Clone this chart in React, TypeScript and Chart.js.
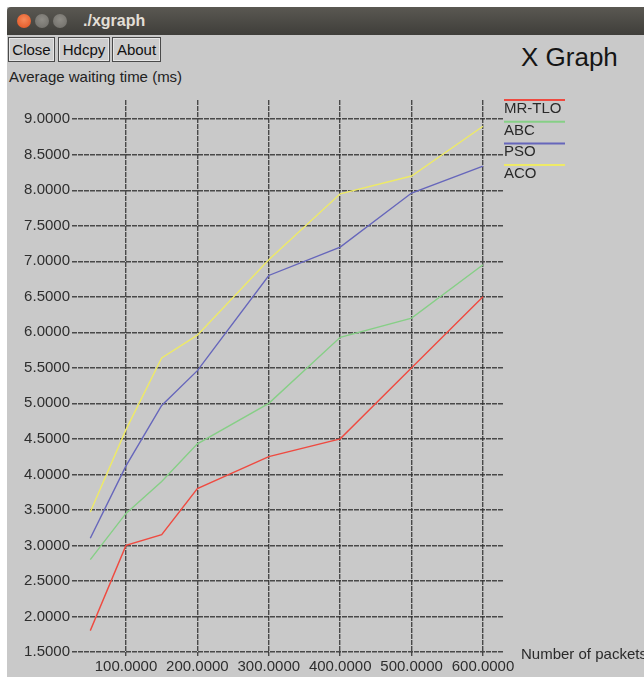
import React, { useEffect, useRef } from "react";
import { Chart, registerables } from "chart.js";
Chart.register(...registerables);

const packets = [50, 100, 150, 200, 300, 400, 500, 600];
const mrTlo = [1.8, 3.0, 3.15, 3.8, 4.25, 4.5, 5.5, 6.5];
const abc = [2.8, 3.45, 3.9, 4.43, 5.0, 5.93, 6.2, 6.95];
const pso = [3.1, 4.12, 4.97, 5.46, 6.8, 7.2, 7.96, 8.34];
const aco = [3.47, 4.63, 5.64, 5.96, 7.02, 7.95, 8.2, 8.9];
const seriesNames = ["MR-TLO", "ABC", "PSO", "ACO"];
const seriesColors = ["#ef4a40", "#86cf86", "#6666bb", "#eeea66"];
const xTicks = [100, 200, 300, 400, 500, 600];
const yTicks = [1.5, 2.0, 2.5, 3.0, 3.5, 4.0, 4.5, 5.0, 5.5, 6.0, 6.5, 7.0, 7.5, 8.0, 8.5, 9.0];
const xTitle = "Number of packets";
const yTitle = "Average waiting time (ms)";

const FONT = '"Liberation Sans", Arial, Helvetica, sans-serif';

export default function App() {
  const ref = useRef<HTMLCanvasElement | null>(null);
  useEffect(() => {
    document.body.style.margin = "0";
    const canvas = ref.current!;
    const values = [mrTlo, abc, pso, aco];
    const legendPlugin = {
      id: "xgLegend",
      afterDraw(chart: any) {
        const ctx = chart.ctx;
        const area = chart.chartArea;
        ctx.save();
        chart.data.datasets.forEach((ds: any, i: number) => {
          const y = area.top + i * 21.7;
          ctx.strokeStyle = ds.borderColor;
          ctx.lineWidth = 2;
          ctx.beginPath();
          ctx.moveTo(area.right + 1, y);
          ctx.lineTo(area.right + 62, y);
          ctx.stroke();
          ctx.fillStyle = "#2a2a2a";
          ctx.font = `15px ${FONT}`;
          ctx.textBaseline = "alphabetic";
          ctx.textAlign = "left";
          ctx.fillText(ds.label, area.right + 1, y + 13);
        });
        ctx.fillStyle = "#2a2a2a";
        ctx.font = `15px ${FONT}`;
        ctx.textBaseline = "middle";
        ctx.fillText(xTitle, area.right + 18, area.bottom - 1);
        ctx.restore();
      },
    };
    const gridOpts = { color: "rgba(45,45,45,0.82)", lineWidth: 1.4, drawTicks: false };
    const chart = new Chart(canvas, {
      type: "line",
      data: {
        datasets: seriesNames.map((name, i) => ({
          label: name,
          data: packets.map((x, j) => ({ x, y: values[i][j] })),
          borderColor: seriesColors[i],
          backgroundColor: seriesColors[i],
          borderWidth: 1.4,
          pointRadius: 0,
          tension: 0,
          fill: false,
        })),
      },
      options: {
        responsive: false,
        animation: false,
        devicePixelRatio: 1,
        layout: { padding: { top: 38, right: 141, left: 0, bottom: 0 } },
        plugins: { legend: { display: false }, tooltip: { enabled: false }, title: { display: false } },
        scales: {
          x: {
            type: "linear",
            min: 24.4,
            max: 628,
            afterFit: (s: any) => {
              s.height = 21;
            },
            afterBuildTicks: (s: any) => {
              s.ticks = xTicks.map((v) => ({ value: v }));
            },
            ticks: {
              callback: (v: any) => Number(v).toFixed(4),
              font: { size: 15, family: FONT },
              color: "#2e2e2e",
              padding: 2,
              maxRotation: 0,
              autoSkip: false,
            },
            grid: gridOpts,
            border: { display: false, dash: [5, 1] },
          },
          y: {
            type: "linear",
            min: 1.443,
            max: 9.27,
            afterFit: (s: any) => {
              s.width = 64;
            },
            afterBuildTicks: (s: any) => {
              s.ticks = yTicks.map((v) => ({ value: v }));
            },
            ticks: {
              callback: (v: any) => Number(v).toFixed(4),
              font: { size: 15, family: FONT },
              color: "#2e2e2e",
              padding: 2,
              autoSkip: false,
            },
            grid: gridOpts,
            border: { display: false, dash: [5, 1] },
          },
        },
      },
      plugins: [legendPlugin],
    } as any);
    return () => chart.destroy();
  }, []);

  const btn: React.CSSProperties = {
    position: "absolute",
    top: 37,
    height: 25,
    boxSizing: "border-box",
    border: "1px solid #4a4a4a",
    boxShadow: "inset 0 0 0 1px #e6e6e6",
    background: "#cdcdcd",
    font: `15px ${FONT}`,
    color: "#111",
    display: "flex",
    alignItems: "center",
    justifyContent: "center",
  };
  const circle = (x: number, bg: string): React.CSSProperties => ({
    position: "absolute",
    left: x - 7,
    top: 14,
    width: 14,
    height: 14,
    borderRadius: "50%",
    background: bg,
  });

  return (
    <div style={{ position: "fixed", left: 0, top: 0, width: 644, height: 677, background: "#ffffff", overflow: "hidden" }}>
      <div style={{ position: "absolute", left: 7, top: 7, width: 637, height: 670, background: "#c9c9c9" }} />
      <div
        style={{
          position: "absolute",
          left: 7,
          top: 7,
          width: 637,
          height: 28,
          background: "linear-gradient(#5a5852, #3f3e3a)",
          borderRadius: "4px 0 0 0",
        }}
      />
      <div style={circle(24, "radial-gradient(circle at 50% 40%, #f58a5a, #e0501e)")} />
      <div style={circle(42, "radial-gradient(circle at 50% 40%, #8e8c86, #6e6c67)")} />
      <div style={circle(60, "radial-gradient(circle at 50% 40%, #8e8c86, #6e6c67)")} />
      <div
        style={{
          position: "absolute",
          left: 83,
          top: 12,
          font: `bold 16px ${FONT}`,
          color: "#e2ded6",
          lineHeight: "18px",
        }}
      >
        ./xgraph
      </div>
      <div style={{ ...btn, left: 8, width: 47 }}>Close</div>
      <div style={{ ...btn, left: 58, width: 52 }}>Hdcpy</div>
      <div style={{ ...btn, left: 112, width: 49 }}>About</div>
      <div style={{ position: "absolute", left: 521, top: 41, font: `26px ${FONT}`, color: "#151515", lineHeight: "32px" }}>
        X Graph
      </div>
      <div style={{ position: "absolute", left: 9, top: 68, font: `15px ${FONT}`, color: "#222", lineHeight: "18px" }}>
        {yTitle}
      </div>
      <canvas ref={ref} width={636} height={615} style={{ position: "absolute", left: 8, top: 62, width: 636, height: 615 }} />
    </div>
  );
}
